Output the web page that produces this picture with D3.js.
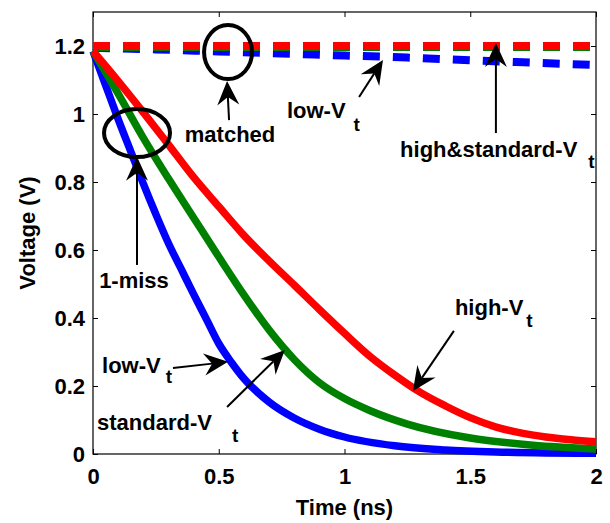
<!DOCTYPE html>
<html>
<head>
  <meta charset="utf-8">
  <script src="https://d3js.org/d3.v7.min.js"></script>
  <style>
    body { margin: 0; background: #fff; }
    text { font-family: "Liberation Sans", Arial, sans-serif; font-weight: bold; font-size: 22px; fill: #000; }
  </style>
</head>
<body>
  <script>
    // discharge curves, time in ns, voltage in V
    const tLow  = [0, 0.05, 0.1, 0.15, 0.2, 0.25, 0.3, 0.35, 0.4, 0.45, 0.5, 0.55, 0.6, 0.7, 0.8, 0.9, 1.0, 1.2, 1.4, 1.6, 1.8, 2.0];
    const vLow  = [1.185, 1.085, 0.985, 0.89, 0.795, 0.705, 0.62, 0.545, 0.47, 0.398, 0.325, 0.27, 0.222, 0.153, 0.106, 0.073, 0.05, 0.024, 0.012, 0.006, 0.003, 0.002];
    const tStd  = [0, 0.1, 0.2, 0.3, 0.4, 0.5, 0.6, 0.7, 0.8, 0.9, 1.0, 1.1, 1.25, 1.5, 1.75, 2.0];
    const vStd  = [1.185, 1.06, 0.93, 0.81, 0.695, 0.58, 0.468, 0.365, 0.278, 0.21, 0.163, 0.128, 0.088, 0.047, 0.026, 0.015];
    const tHigh = [0, 0.1, 0.2, 0.3, 0.4, 0.5, 0.6, 0.7, 0.8, 0.9, 1.0, 1.1, 1.2, 1.3, 1.4, 1.5, 1.6, 1.7, 1.8, 1.9, 2.0];
    const vHigh = [1.185, 1.097, 1.005, 0.91, 0.814, 0.728, 0.643, 0.568, 0.497, 0.425, 0.355, 0.288, 0.232, 0.182, 0.142, 0.107, 0.08, 0.062, 0.05, 0.042, 0.036];

    // held node voltage (dashed)
    const tHold     = [0, 0.25, 0.5, 0.75, 1.0, 1.25, 1.5, 1.75, 2.0];
    const vHoldLow  = [1.195, 1.19, 1.184, 1.178, 1.172, 1.166, 1.158, 1.151, 1.144];
    const vHoldStd  = [1.197, 1.197, 1.197, 1.197, 1.197, 1.197, 1.197, 1.197, 1.197];
    const vHoldHigh = [1.2, 1.2, 1.2, 1.2, 1.2, 1.2, 1.2, 1.2, 1.2];

    const xTicks = [0, 0.5, 1, 1.5, 2];
    const yTicks = [0, 0.2, 0.4, 0.6, 0.8, 1, 1.2];

    const margin = {top: 12, right: 14, bottom: 69, left: 93},
      width = 610 - margin.left - margin.right,
      height = 523 - margin.top - margin.bottom;

    const svg = d3.select("body").append("svg")
      .attr("width", 610)
      .attr("height", 523);
    const g = svg.append("g").attr("transform", `translate(${margin.left},${margin.top})`);

    const x = d3.scaleLinear().domain([0, 2]).range([0, width]);
    const y = d3.scaleLinear().domain([0, 1.3]).range([height, 0]);

    const fmt = d3.format("~g");

    // axes with inward ticks, MATLAB style
    function styleAxis(sel) {
      sel.attr("font-size", null).attr("font-family", null);
      sel.select(".domain").remove();
      sel.selectAll(".tick line").attr("stroke", "#000").attr("stroke-width", 1);
    }
    g.append("g").attr("transform", `translate(0,${height})`)
      .call(d3.axisBottom(x).tickValues(xTicks).tickFormat(fmt).tickSize(-5).tickPadding(14))
      .call(styleAxis);
    g.append("g")
      .call(d3.axisLeft(y).tickValues(yTicks).tickFormat(fmt).tickSize(-5).tickPadding(8))
      .call(styleAxis);
    g.append("g")
      .call(d3.axisTop(x).tickValues(xTicks).tickFormat("").tickSize(-5))
      .call(styleAxis);
    g.append("g").attr("transform", `translate(${width},0)`)
      .call(d3.axisRight(y).tickValues(yTicks).tickFormat("").tickSize(-5))
      .call(styleAxis);

    g.append("rect")
      .attr("width", width).attr("height", height)
      .attr("fill", "none").attr("stroke", "#000").attr("stroke-width", 1.2);

    const line = d3.line()
      .x(d => x(d[0]))
      .y(d => y(d[1]))
      .curve(d3.curveMonotoneX);

    const zip = (ts, vs) => ts.map((t, i) => [t, vs[i]]);

    const curves = g.append("g");
    [[tHold, vHoldLow, "#0000ff"], [tHold, vHoldStd, "#008000"], [tHold, vHoldHigh, "#ff0000"]].forEach(s => {
      curves.append("path")
        .attr("d", line(zip(s[0], s[1])))
        .attr("fill", "none")
        .attr("stroke", s[2])
        .attr("stroke-width", 8)
        .attr("stroke-dasharray", "17,13");
    });
    [[tLow, vLow, "#0000ff"], [tStd, vStd, "#008000"], [tHigh, vHigh, "#ff0000"]].forEach(s => {
      curves.append("path")
        .attr("d", line(zip(s[0], s[1])))
        .attr("fill", "none")
        .attr("stroke", s[2])
        .attr("stroke-width", 7.5)
        .attr("stroke-linejoin", "round");
    });

    // axis titles
    svg.append("text")
      .attr("x", margin.left + x(1)).attr("y", 515)
      .attr("text-anchor", "middle")
      .text("Time (ns)");
    svg.append("text")
      .attr("transform", `translate(35,${margin.top + height / 2}) rotate(-90)`)
      .attr("text-anchor", "middle")
      .text("Voltage (V)");

    // annotations
    const rings = [
      {t: 0.537, v: 1.182, rx: 24, ry: 27},
      {t: 0.175, v: 0.944, rx: 33, ry: 24}
    ];
    const arrows = [
      [[0.541, 0.982], [0.533, 1.097]],
      [[1.058, 1.05], [1.153, 1.159]],
      [[1.602, 0.944], [1.602, 1.209]],
      [[0.175, 0.556], [0.175, 0.874]],
      [[0.318, 0.253], [0.537, 0.271]],
      [[0.533, 0.138], [0.763, 0.306]],
      [[1.435, 0.362], [1.272, 0.185]]
    ];
    const notes = [
      {text: "matched", t: 0.545, v: 0.918, anchor: "middle"},
      {text: "low-V", sub: "t", t: 0.771, v: 0.988, dx: 8, dy: 13},
      {text: "high&standard-V", sub: "t", t: 1.221, v: 0.874, dx: 11, dy: 11},
      {text: "1-miss", t: 0.163, v: 0.488, anchor: "middle"},
      {text: "low-V", sub: "t", t: 0.036, v: 0.238, dx: 5, dy: 10},
      {text: "standard-V", sub: "t", t: 0.016, v: 0.071, dx: 20, dy: 12},
      {text: "high-V", sub: "t", t: 1.439, v: 0.409, dx: 3, dy: 12}
    ];

    const ann = g.append("g");
    rings.forEach(r => {
      ann.append("ellipse")
        .attr("cx", x(r.t)).attr("cy", y(r.v))
        .attr("rx", r.rx).attr("ry", r.ry)
        .attr("fill", "none").attr("stroke", "#000").attr("stroke-width", 4);
    });

    const headLen = 24, headHalf = 11, notch = 16;
    arrows.forEach(a => {
      const x0 = x(a[0][0]), y0 = y(a[0][1]), x1 = x(a[1][0]), y1 = y(a[1][1]);
      const len = Math.hypot(x1 - x0, y1 - y0);
      const ux = (x1 - x0) / len, uy = (y1 - y0) / len;
      const nx = -uy, ny = ux;
      ann.append("line")
        .attr("x1", x0).attr("y1", y0)
        .attr("x2", x1 - ux * notch).attr("y2", y1 - uy * notch)
        .attr("stroke", "#000").attr("stroke-width", 2);
      const pts = [
        [x1, y1],
        [x1 - ux * headLen + nx * headHalf, y1 - uy * headLen + ny * headHalf],
        [x1 - ux * notch, y1 - uy * notch],
        [x1 - ux * headLen - nx * headHalf, y1 - uy * headLen - ny * headHalf]
      ];
      ann.append("path")
        .attr("d", "M" + pts.map(p => p.join(",")).join("L") + "Z")
        .attr("fill", "#000");
    });

    notes.forEach(n => {
      const t = ann.append("text")
        .attr("x", x(n.t)).attr("y", y(n.v))
        .attr("text-anchor", n.anchor || "start")
        .text(n.text);
      if (n.sub) {
        t.append("tspan")
          .attr("dx", n.dx).attr("dy", n.dy)
          .style("font-size", "19px")
          .text(n.sub);
      }
    });
  </script>
</body>
</html>
